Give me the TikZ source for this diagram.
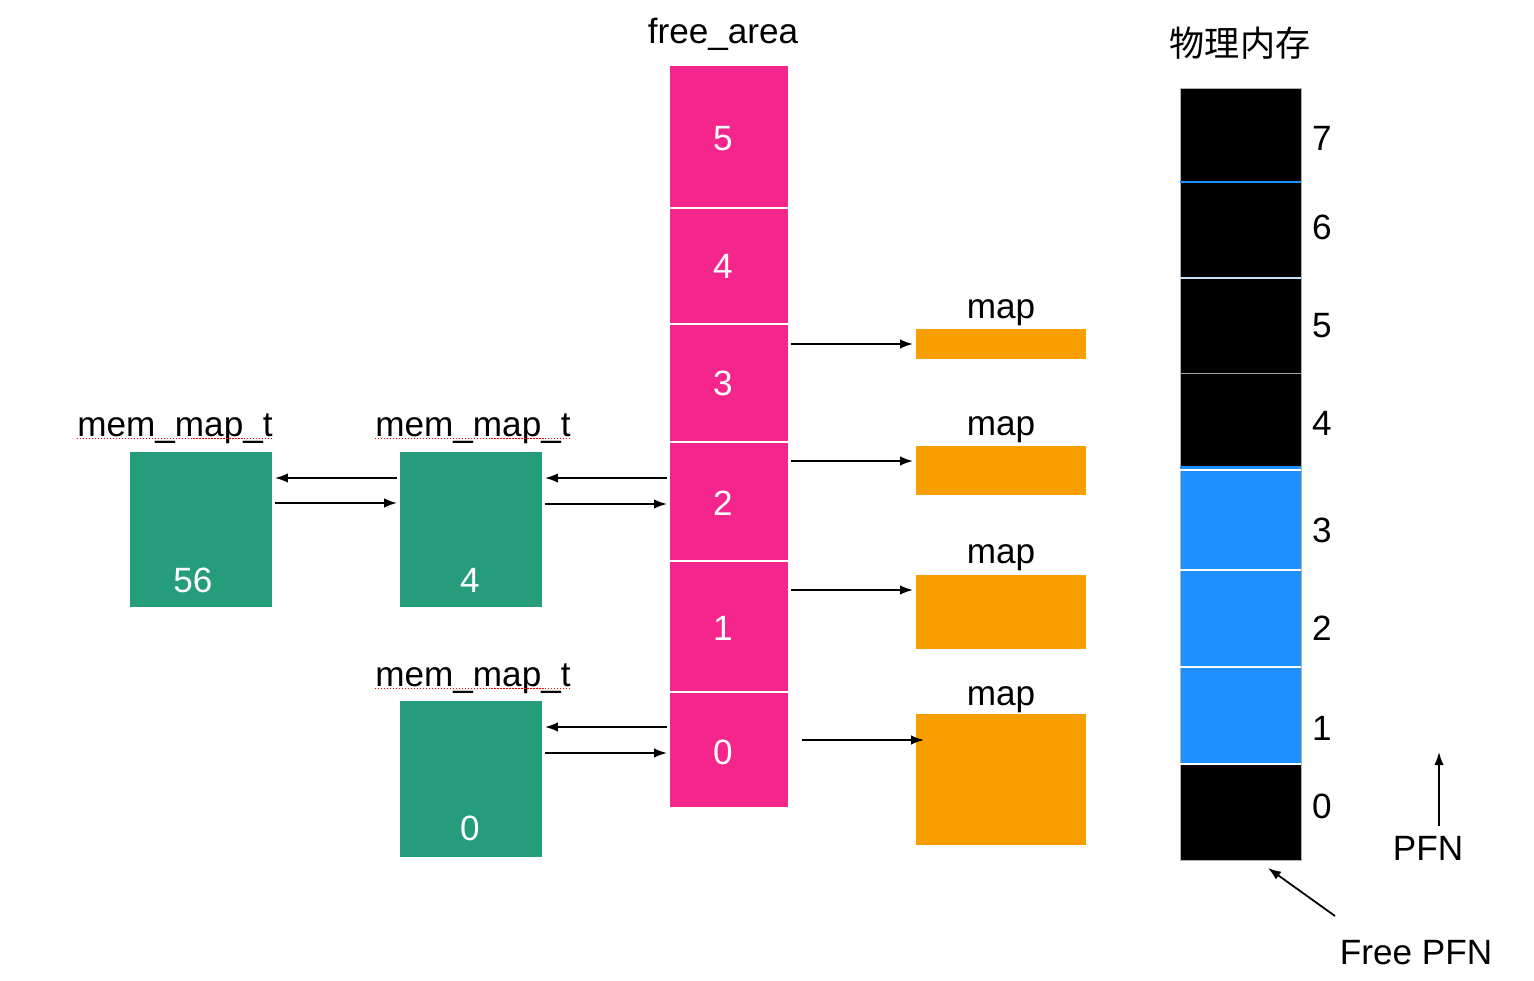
\documentclass[tikz,border=0pt]{standalone}
\usepackage{fontspec}
\setmainfont{Liberation Sans}
\newfontfamily\cjk{Noto Sans CJK SC}
\usetikzlibrary{arrows.meta}
\definecolor{pinkc}{RGB}{244,38,142}
\definecolor{greenc}{RGB}{37,156,122}
\definecolor{orangec}{RGB}{249,158,0}
\definecolor{bluec}{RGB}{30,144,255}
\definecolor{lightsep}{RGB}{200,225,245}
\begin{document}
\begin{tikzpicture}[x=0.02cm,y=-0.02cm,
  font=\fontsize{20pt}{24pt}\selectfont,
  sz/.style 2 args={minimum width=#1, minimum height=#2},
  blk/.style={anchor=north west, inner sep=0, outer sep=0, draw=none},
  facell/.style={blk, fill=pinkc, sz={2.36cm}{#1}},
  grn/.style={blk, fill=greenc, sz={2.84cm}{#1}},
  org/.style={blk, fill=orangec, sz={3.40cm}{#1}},
  memc/.style={blk, sz={2.42cm}{#1}},
  txt/.style={anchor=base, inner sep=0},
  wtxt/.style={txt, text=white},
  arr/.style={-{Latex[length=2.6mm,width=1.9mm]}, line width=1pt, shorten <=0.06cm, shorten >=0.06cm},
  spell/.style={red, densely dotted, line width=0.7pt}
]
\useasboundingbox (0,0) rectangle (1534,980);

% free_area column
\node[txt] (fatitle) at (723,44) {free\_area};
\node[facell=2.82cm] (fa5) at (670,66) {};
\node[facell=2.28cm] (fa4) at (670,209) {};
\node[facell=2.32cm] (fa3) at (670,325) {};
\node[facell=2.34cm] (fa2) at (670,443) {};
\node[facell=2.58cm] (fa1) at (670,562) {};
\node[facell=2.28cm] (fa0) at (670,693) {};
\node[wtxt] (fl5) at (723,151) {5};
\node[wtxt] (fl4) at (723,278) {4};
\node[wtxt] (fl3) at (723,395) {3};
\node[wtxt] (fl2) at (723,515) {2};
\node[wtxt] (fl1) at (723,640) {1};
\node[wtxt] (fl0) at (723,764) {0};

% mem_map_t boxes
\node[txt] (la) at (175,436) {mem\_map\_t};
\node[txt] (lb) at (473,436) {mem\_map\_t};
\node[txt] (lc) at (473,686) {mem\_map\_t};
\foreach \n in {la,lb,lc}{
  \draw[spell] ([yshift=-0.05cm]\n.base west) -- ([yshift=-0.05cm]\n.base east);
}
\node[grn=3.10cm] (A) at (130,452) {};
\node[grn=3.10cm] (B) at (400,452) {};
\node[grn=3.12cm] (C) at (400,701) {};
\node[wtxt] (ta) at (193,592) {56};
\node[wtxt] (tb) at (470,592) {4};
\node[wtxt] (tc) at (470,840) {0};

% arrows between mem_map_t and free_area
\draw[arr] (B.west |- 0,478) -- (A.east |- 0,478);
\draw[arr] (A.east |- 0,503) -- (B.west |- 0,503);
\draw[arr] (fa2.west |- 0,478) -- (B.east |- 0,478);
\draw[arr] (B.east |- 0,504) -- (fa2.west |- 0,504);
\draw[arr] (fa0.west |- 0,727) -- (C.east |- 0,727);
\draw[arr] (C.east |- 0,753) -- (fa0.west |- 0,753);

% map boxes
\node[txt] (ml1) at (1001,318) {map};
\node[txt] (ml2) at (1001,435) {map};
\node[txt] (ml3) at (1001,563) {map};
\node[txt] (ml4) at (1001,705) {map};
\node[org=0.60cm] (m1) at (916,329) {};
\node[org=0.98cm] (m2) at (916,446) {};
\node[org=1.48cm] (m3) at (916,575) {};
\node[org=2.62cm] (m4) at (916,714) {};
\draw[arr] (fa3.east |- 0,344) -- (m1.west |- 0,344);
\draw[arr] (fa2.east |- 0,461) -- (m2.west |- 0,461);
\draw[arr] (fa1.east |- 0,590) -- (m3.west |- 0,590);
\draw[arr, shorten <=0.28cm, shorten >=-0.16cm] (fa0.east |- 0,740) -- (m4.west |- 0,740);

% physical memory
\node[txt] (pmtitle) at (1240,57) {\cjk 物理内存};
\node[memc=1.88cm, fill=black] (p7) at (1180,88) {};
\node[memc=1.92cm, fill=black] (p6) at (1180,182) {};
\node[memc=1.90cm, fill=black] (p5) at (1180,278) {};
\node[memc=1.94cm, fill=black] (p4) at (1180,373) {};
\node[memc=2.00cm, fill=bluec] (p3) at (1180,470) {};
\node[memc=1.94cm, fill=bluec] (p2) at (1180,570) {};
\node[memc=1.94cm, fill=bluec] (p1) at (1180,667) {};
\node[memc=1.92cm, fill=black] (p0) at (1180,764) {};
\draw[gray!60, line width=0.5pt] (p7.north west) rectangle (p0.south east);
\draw[bluec, line width=1.2pt] (p7.south west) -- (p7.south east);
\draw[lightsep, line width=1pt] (p6.south west) -- (p6.south east);
\draw[gray!70, line width=0.5pt] (p5.south west) -- (p5.south east);
\draw[bluec, line width=2pt] ([yshift=0.05cm]p4.south west) -- ([yshift=0.05cm]p4.south east);
\draw[white, line width=1.2pt] (p4.south west) -- (p4.south east);
\draw[white, line width=1.2pt] (p3.south west) -- (p3.south east);
\draw[white, line width=1.2pt] (p2.south west) -- (p2.south east);
\draw[white, line width=1.2pt] (p1.south west) -- (p1.south east);
\node[txt] (n7) at (1322,151) {7};
\node[txt] (n6) at (1322,239) {6};
\node[txt] (n5) at (1322,337) {5};
\node[txt] (n4) at (1322,435) {4};
\node[txt] (n3) at (1322,542) {3};
\node[txt] (n2) at (1322,640) {2};
\node[txt] (n1) at (1322,740) {1};
\node[txt] (n0) at (1322,818) {0};

% PFN
\node[txt] (pfn) at (1428,860) {PFN};
\coordinate (pfnTail) at (1439,826);
\coordinate (pfnHead) at (1439,752);
\draw[arr, shorten <=0pt, shorten >=0pt] (pfnTail) -- (pfnHead);
\node[txt] (fpfn) at (1416,964) {Free PFN};
\coordinate (fTail) at (1335,916);
\coordinate (fHead) at (1268,868);
\draw[arr, shorten <=0pt, shorten >=0pt] (fTail) -- (fHead);
\end{tikzpicture}
\end{document}
